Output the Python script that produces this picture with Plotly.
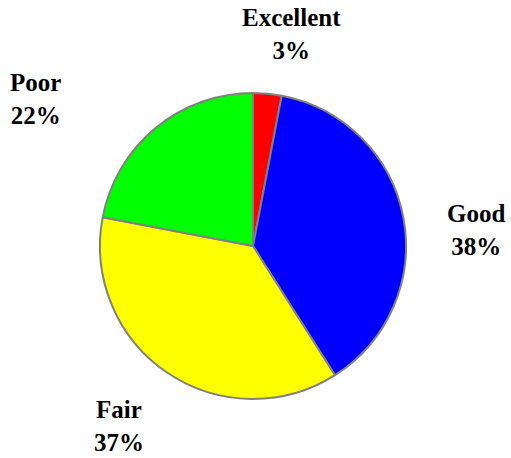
import plotly.graph_objects as go

categories = ["Excellent", "Good", "Fair", "Poor"]
percents = [3, 38, 37, 22]
colors = ["#FF0000", "#0000FF", "#FFFF00", "#00FF00"]

# label placement (paper coordinates), layout only
label_x = [0.5714, 0.9315, 0.2329, 0.0685]
label_y = [0.9258, 0.4978, 0.0699, 0.7838]

W, H = 511, 458
cx, cy, r = 253, 246, 153

fig = go.Figure(go.Pie(
    labels=categories,
    values=percents,
    sort=False,
    direction="clockwise",
    rotation=0,
    marker=dict(colors=colors, line=dict(color="#808080", width=2)),
    textinfo="none",
    hoverinfo="label+percent",
    domain=dict(x=[(cx - r) / W, (cx + r) / W],
                y=[(H - cy - r) / H, (H - cy + r) / H]),
    showlegend=False,
))

for c, p, x, y in zip(categories, percents, label_x, label_y):
    fig.add_annotation(x=x, y=y, xref="paper", yref="paper",
                       text=f"<b>{c}<br>{p}%</b>", showarrow=False,
                       xanchor="center", yanchor="middle",
                       font=dict(family="Liberation Serif", size=25, color="black"))

fig.update_layout(width=W, height=H, margin=dict(l=0, r=0, t=0, b=0),
                  paper_bgcolor="white", plot_bgcolor="white")
fig.write_html("out.html", config={"displayModeBar": False},
               post_script="document.body.style.margin='0';document.body.style.overflow='hidden';")
